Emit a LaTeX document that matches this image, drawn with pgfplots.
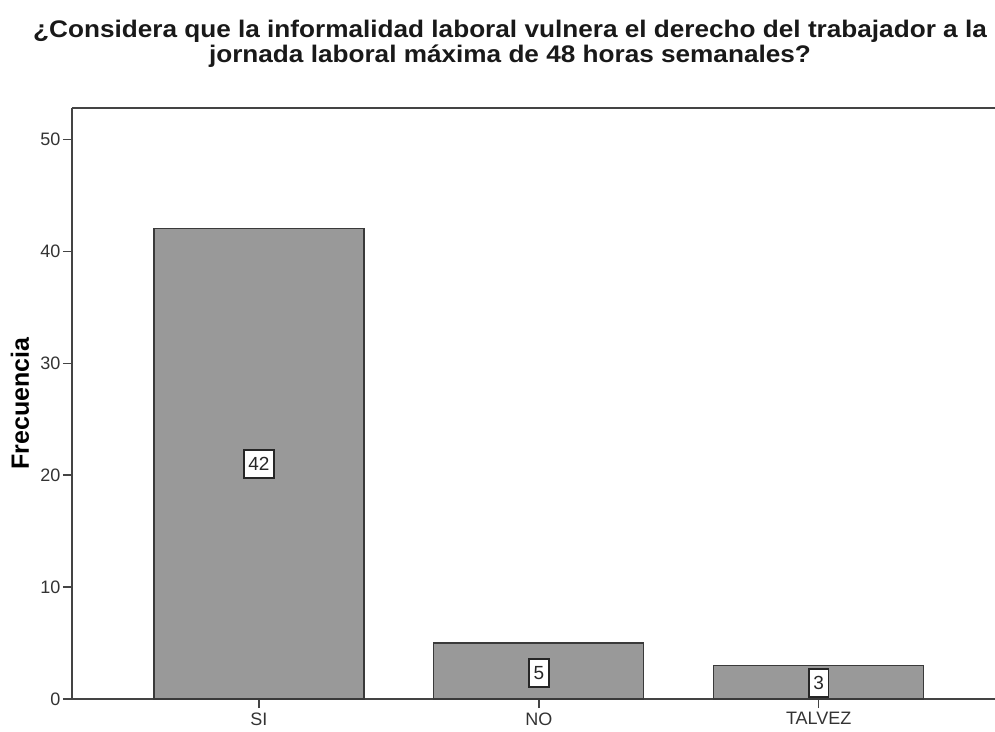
\documentclass[border=0pt]{standalone}
\usepackage{pgfplots}
\pgfplotsset{compat=1.18}
\usepackage{fontspec}
\setmainfont{Liberation Sans}
\definecolor{barfill}{HTML}{999999}
\definecolor{barline}{HTML}{3A3A3A}
\definecolor{axline}{HTML}{444444}
\begin{document}
\begin{tikzpicture}[x=1pt,y=1pt]
\begin{axis}[
  at={(0pt,0pt)}, anchor=south west,
  scale only axis, width=923pt, height=591pt,
  xmin=-0.668, xmax=2.63,
  ymin=0, ymax=52.8,
  axis x line*=bottom, axis y line*=left,
  axis line style={axline, line width=1.4pt},
  xtick={0,1,2}, xticklabels={SI,NO,TALVEZ},
  ytick={0,10,20,30,40,50},
  tick style={axline, line width=1.4pt},
  tick align=outside, major tick length=9pt,
  x tick label style={font=\fontsize{18}{21}\selectfont, text=black!80},
  y tick label style={font=\fontsize{18}{21}\selectfont, text=black!80},
  /pgf/number format/assume math mode=true,
  xticklabel style={yshift=-1pt},
  yticklabel style={xshift=1pt},
  ylabel={\bfseries Frecuencia},
  ylabel style={at={(axis description cs:-0.0563,0.5)}, anchor=center, font=\fontsize{25}{28}\selectfont},
  clip=false,
]
\addplot[ybar, bar width=0.75, fill=barfill, draw=barline, line width=1.2pt]
  coordinates {(0,42) (1,5) (2,3)};
\addplot[only marks, mark=none, point meta=explicit symbolic,
  nodes near coords,
  every node near coord/.style={anchor=center, fill=white, draw=black!85, line width=1.8pt, minimum height=28pt, inner xsep=4.5pt, inner ysep=4pt, font=\fontsize{19}{21}\selectfont, text=black!85}]
  coordinates {(0,21) [42] (1,2.3) [5] (2,1.4) [3]};
\draw[axline, line width=1.4pt] (rel axis cs:0,1) -- (rel axis cs:1,1);
\end{axis}
\node[anchor=base, font=\bfseries\fontsize{24}{25}\selectfont, text=black!90, inner sep=0pt] at (438pt,661pt)
  {\scalebox{1.09}[1]{¿Considera que la informalidad laboral vulnera el derecho del trabajador a la}};
\node[anchor=base, font=\bfseries\fontsize{24}{25}\selectfont, text=black!90, inner sep=0pt] at (438pt,636pt)
  {\scalebox{1.09}[1]{jornada laboral máxima de 48 horas semanales?}};
\pgfresetboundingbox
\path (-72pt,-32pt) rectangle (923pt,699pt);
\end{tikzpicture}
\end{document}
